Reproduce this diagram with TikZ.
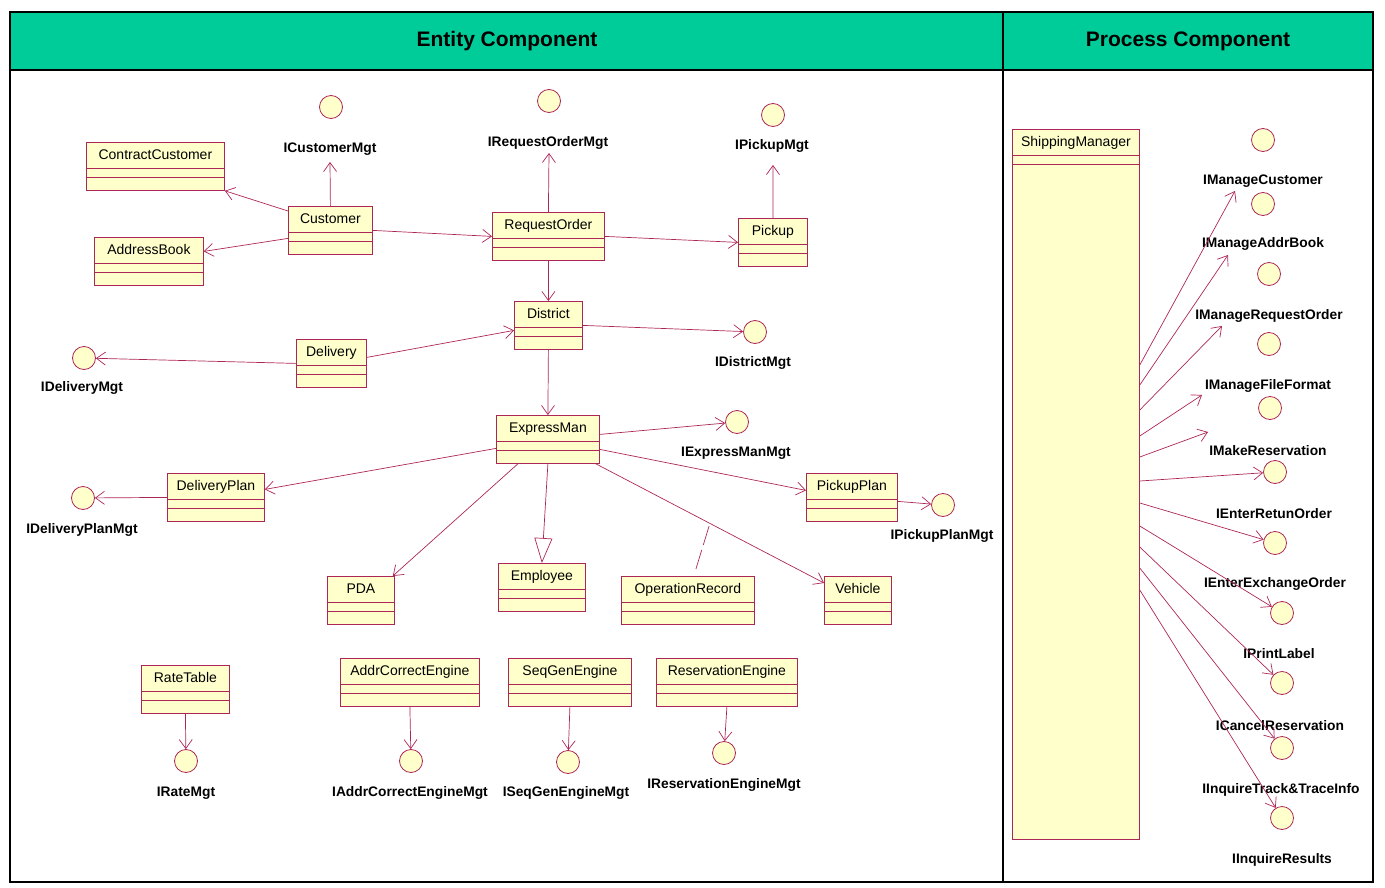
\documentclass[tikz,border=0pt]{standalone}
\usepackage{fontspec}
\setmainfont{Liberation Sans}
\usetikzlibrary{arrows.meta}
\definecolor{uRed}{RGB}{172,38,88}
\definecolor{uYellow}{RGB}{255,255,204}
\definecolor{uGreen}{RGB}{0,204,153}

\begin{document}
\begin{tikzpicture}[
  x=1pt,
  y=-1pt,
  every node/.style={font=\fontsize{14}{16}\selectfont},
  classbox/.style={
    draw=uRed,
    fill=uYellow,
    line width=0.8pt,
    anchor=north west,
    inner xsep=0pt,
    inner ysep=0pt,
    text height=17pt,
    text depth=31pt
  },
  iface/.style={circle, draw=uRed, fill=uYellow, line width=0.8pt, minimum size=23pt, inner sep=0pt},
  ilabel/.style={font=\fontsize{13.8}{16}\selectfont\bfseries, inner sep=0pt},
  header/.style={font=\fontsize{21}{24}\selectfont\bfseries},
  link/.style={draw=uRed, line width=0.7pt, -{Straight Barb[length=9pt,width=13pt]}},
  inherit/.style={draw=uRed, line width=0.7pt, -{Triangle[open,length=25pt,width=18pt,fill=white]}}
]
  \useasboundingbox (0,0) rectangle (1385,888);

  % frame and headers
  \fill[uGreen] (10,12) rectangle (1373,70);
  \draw[line width=1.6pt] (10,12) rectangle (1373,882);
  \draw[line width=1.6pt] (10,70) -- (1373,70);
  \draw[line width=1.6pt] (1003,12) -- (1003,882);
  \node[header] (entity) at (507,41) {Entity Component};
  \node[header] (process) at (1188,41) {Process Component};

  % classes
  \node[classbox, minimum width=138] (cc) at (86,142) {ContractCustomer};
  \node[classbox, minimum width=84] (cust) at (288,206) {Customer};
  \node[classbox, minimum width=109] (addr) at (94,237) {AddressBook};
  \node[classbox, minimum width=112] (reqord) at (492,212) {RequestOrder};
  \node[classbox, minimum width=69] (pickup) at (738,218) {Pickup};
  \node[classbox, minimum width=68] (district) at (514,301) {District};
  \node[classbox, minimum width=70] (delivery) at (296,339) {Delivery};
  \node[classbox, minimum width=103] (expman) at (496,415) {ExpressMan};
  \node[classbox, minimum width=97] (dplan) at (167,473) {DeliveryPlan};
  \node[classbox, minimum width=91] (pplan) at (806,473) {PickupPlan};
  \node[classbox, minimum width=67] (pda) at (327,576) {PDA};
  \node[classbox, minimum width=87] (employee) at (498,563) {Employee};
  \node[classbox, minimum width=133] (oprec) at (621,576) {OperationRecord};
  \node[classbox, minimum width=67] (vehicle) at (824,576) {Vehicle};
  \node[classbox, minimum width=88] (ratet) at (141,665) {RateTable};
  \node[classbox, minimum width=139] (addreng) at (340,658) {AddrCorrectEngine};
  \node[classbox, minimum width=123] (seqeng) at (508,658) {SeqGenEngine};
  \node[classbox, minimum width=141] (reseng) at (656,658) {ReservationEngine};
  \node[classbox, minimum width=127, text depth=693pt] (shipmgr) at (1012,129) {ShippingManager};

  \foreach \c in {cc,cust,addr,reqord,pickup,district,delivery,expman,dplan,pplan,
                  pda,employee,oprec,vehicle,ratet,addreng,seqeng,reseng,shipmgr} {
    \draw[uRed, line width=0.8pt] ([yshift=-26pt]\c.north west) -- ([yshift=-26pt]\c.north east);
    \draw[uRed, line width=0.8pt] ([yshift=-35pt]\c.north west) -- ([yshift=-35pt]\c.north east);
  }

  % interfaces, entity side
  \node[iface] (icust) at (331,107) {};
  \node[iface] (ireq) at (549,101) {};
  \node[iface] (ipick) at (773,115) {};
  \node[iface] (idist) at (755,332) {};
  \node[iface] (ideliv) at (84,358) {};
  \node[iface] (iexp) at (737,422) {};
  \node[iface] (idplan) at (83,498) {};
  \node[iface] (ipplan) at (943,505) {};
  \node[iface] (irate) at (186,761) {};
  \node[iface] (iaddreng) at (411,761) {};
  \node[iface] (iseqeng) at (568,762) {};
  \node[iface] (ireseng) at (724,753) {};

  \node[ilabel] (licust) at (330,149) {ICustomerMgt};
  \node[ilabel] (lireq) at (548,143) {IRequestOrderMgt};
  \node[ilabel] (lipick) at (772,146) {IPickupMgt};
  \node[ilabel] (lidist) at (753,363) {IDistrictMgt};
  \node[ilabel] (lideliv) at (82,388) {IDeliveryMgt};
  \node[ilabel] (liexp) at (736,453) {IExpressManMgt};
  \node[ilabel] (lidplan) at (82,530) {IDeliveryPlanMgt};
  \node[ilabel] (lipplan) at (942,536) {IPickupPlanMgt};
  \node[ilabel] (lirate) at (186,793) {IRateMgt};
  \node[ilabel] (liaddreng) at (410,793) {IAddrCorrectEngineMgt};
  \node[ilabel] (liseqeng) at (566,793) {ISeqGenEngineMgt};
  \node[ilabel] (lireseng) at (724,785) {IReservationEngineMgt};

  % interfaces, process side
  \node[iface] (imcust) at (1263,140) {};
  \node[iface] (imaddr) at (1263,204) {};
  \node[iface] (imreq) at (1269,274) {};
  \node[iface] (imfile) at (1269,344) {};
  \node[iface] (imres) at (1270,408) {};
  \node[iface] (ieret) at (1275,472) {};
  \node[iface] (ieexch) at (1275,543) {};
  \node[iface] (iprint) at (1282,613) {};
  \node[iface] (icancel) at (1282,683) {};
  \node[iface] (itrack) at (1282,748) {};
  \node[iface] (iresult) at (1282,818) {};

  \node[ilabel] (limcust) at (1263,181) {IManageCustomer};
  \node[ilabel] (limaddr) at (1263,244) {IManageAddrBook};
  \node[ilabel] (limreq) at (1269,316) {IManageRequestOrder};
  \node[ilabel] (limfile) at (1268,386) {IManageFileFormat};
  \node[ilabel] (limres) at (1268,451) {IMakeReservation};
  \node[ilabel] (lieret) at (1274,514) {IEnterRetunOrder};
  \node[ilabel] (lieexch) at (1275,584) {IEnterExchangeOrder};
  \node[ilabel] (liprint) at (1279,654) {IPrintLabel};
  \node[ilabel] (licancel) at (1280,726) {ICancelReservation};
  \node[ilabel] (litrack) at (1281,790) {IInquireTrack\&TraceInfo};
  \node[ilabel] (liresult) at (1282,860) {IInquireResults};

  % free arrow ends
  \coordinate (tcust) at (330,162);
  \coordinate (treq) at (549,153);
  \coordinate (tpick) at (773,165);
  \coordinate (t1) at (1235,191);
  \coordinate (t2) at (1228,255);
  \coordinate (t3) at (1222,326);
  \coordinate (t4) at (1202,395);
  \coordinate (t5) at (1208,432);

  % associations
  \draw[link] ([yshift=-5pt]cust.north west) -- (cc.south east);
  \draw[link] ([yshift=-8pt]cust.west) -- ([yshift=10pt]addr.east);
  \draw[link] (cust.north) -- (tcust);
  \draw[link] (cust.east) -- (reqord.west);
  \draw[link] (reqord.north) -- (treq);
  \draw[link] (reqord.east) -- (pickup.west);
  \draw[link] (pickup.north) -- (tpick);
  \draw[link] (reqord.south) -- (district.north);
  \draw[link] (district.east) -- (idist);
  \draw[link] ([yshift=6pt]delivery.east) -- ([yshift=-5pt]district.west);
  \draw[link] (delivery.west) -- (ideliv);
  \draw[link] (district.south) -- (expman.north);
  \draw[link] ([yshift=5pt]expman.east) -- (iexp);
  \draw[link] ([yshift=-10pt]expman.east) -- ([yshift=7pt]pplan.west);
  \draw[link] ([yshift=-4pt]pplan.east) -- (ipplan);
  \draw[link] ([yshift=-9pt]expman.west) -- ([yshift=8pt]dplan.east);
  \draw[link] (dplan.west) -- (idplan);
  \draw[link] ([xshift=-30pt]expman.south) -- ([xshift=-2pt]pda.north east);
  \draw[inherit] (expman.south) -- (employee.north);
  \draw[link] ([xshift=-4pt]expman.south east) -- coordinate[pos=0.5] (assoc) ([yshift=-7pt]vehicle.north west);
  \draw[uRed, line width=0.7pt, dash pattern=on 20pt off 5pt] ([xshift=8pt,yshift=7pt]oprec.north) -- (assoc);
  \draw[link] (ratet.south) -- (irate);
  \draw[link] (addreng.south) -- (iaddreng);
  \draw[link] (seqeng.south) -- (iseqeng);
  \draw[link] (reseng.south) -- (ireseng);

  % process realisations
  \foreach \dy/\to in {236/t1, 256/t2, 281/t3, 307/t4, 328/t5, 352/ieret,
                       374/ieexch, 397/iprint, 418/icancel, 439/itrack, 461/iresult} {
    \draw[link] ([yshift=-\dy pt]shipmgr.north east) -- (\to);
  }
\end{tikzpicture}
\end{document}
